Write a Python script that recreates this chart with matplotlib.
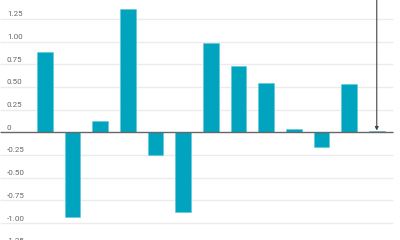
import matplotlib.pyplot as plt

# bar values, left to right
values = [0.885, -0.937, 0.12, 1.36, -0.254, -0.875, 0.988, 0.734, 0.54, 0.036, -0.165, 0.533, 0.01]
tick_values = [1.25, 1.0, 0.75, 0.5, 0.25, 0, -0.25, -0.5, -0.75, -1.0, -1.25]
tick_labels = ["1.25", "1.00", "0.75", "0.50", "0.25", "0", "-0.25", "-0.50", "-0.75", "-1.00", "-1.25"]

bar_color = "#00a4bf"
last_color = "#1f6f7a"

fig = plt.figure(figsize=(4, 2.4), dpi=100)
ax = fig.add_axes([0, 0, 1, 1])
ax.set_xlim(-1.62, 12.84)
ax.set_ylim(-1.187, 1.459)
ax.axis("off")

# grid lines and labels
for v, lab in zip(tick_values, tick_labels):
    if v != 0:
        ax.hlines(v, -1.62, 12.58, color="#ececec", linewidth=1, zorder=0)
    ax.text(-1.37, v + 0.05, lab, ha="left", va="center", fontsize=5.8,
            color="#666666", family="Roboto")

colors = [bar_color] * (len(values) - 1) + [last_color]
ax.bar(range(len(values)), values, width=0.56, color=colors,
       edgecolor="#5cc8d8", linewidth=0.4, zorder=2)

ax.hlines(0, -1.62, 12.58, color="#666666", linewidth=1, zorder=3)

# annotation arrow pointing down at the last bar
ax.annotate("", xy=(12, 0.02), xytext=(12, 1.47),
            arrowprops=dict(arrowstyle="-|>", color="#444444", lw=0.8,
                            mutation_scale=5, shrinkA=0, shrinkB=0),
            zorder=4)

fig.savefig("out.png", dpi=100)
